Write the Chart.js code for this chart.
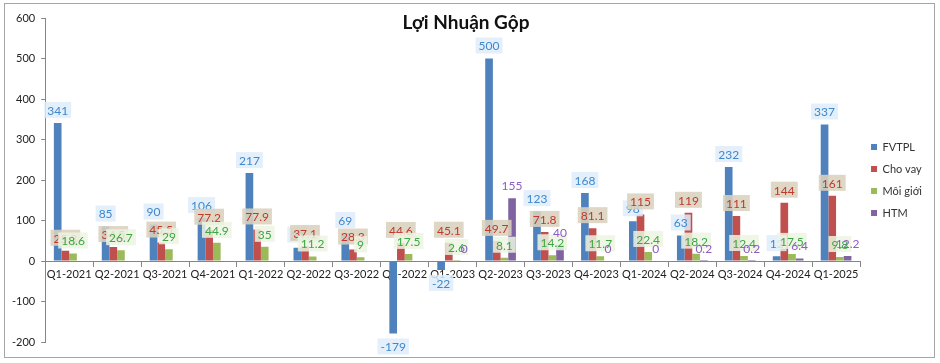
<!DOCTYPE html>
<html>
<head>
<meta charset="utf-8">
<script src="https://cdn.jsdelivr.net/npm/chart.js@4.4.1/dist/chart.umd.min.js"></script>
<style>
    html, body { margin: 0; padding: 0; background: #ffffff; }
    #wrap { position: relative; width: 940px; height: 363px; }
    #frame {
        position: absolute; left: 4px; top: 3px; width: 929px; height: 353px;
        border: 1px solid #a6a6a6; pointer-events: none;
    }
    #title {
        position: absolute; left: 0; top: 10px; width: 932px; text-align: center;
        font-family: Lato, 'Open Sans', sans-serif; font-weight: bold; font-size: 19px; color: #111;
    }
</style>
</head>
<body>
<div id="wrap">
    <canvas id="chart" width="940" height="363"></canvas>
    <div id="frame"></div>
    <div id="title">Lợi Nhuận Gộp</div>
</div>
<script>
// Quarters on the x axis
const quarters = [
    'Q1-2021', 'Q2-2021', 'Q3-2021', 'Q4-2021',
    'Q1-2022', 'Q2-2022', 'Q3-2022', 'Q4-2022',
    'Q1-2023', 'Q2-2023', 'Q3-2023', 'Q4-2023',
    'Q1-2024', 'Q2-2024', 'Q3-2024', 'Q4-2024',
    'Q1-2025'
];

// Series values (some hidden labels estimated)
const fvtpl   = [341, 85, 90, 106, 217, 33, 69, -179, -22, 500, 123, 168, 98, 63, 232, 12, 337];
const choVay  = [25.3, 34.5, 45.5, 77.2, 77.9, 37.1, 28.3, 44.6, 45.1, 49.7, 71.8, 81.1, 115, 119, 111, 144, 161];
const moiGioi = [18.6, 26.7, 29, 44.9, 35, 11.2, 9, 17.5, 2.6, 8.1, 14.2, 11.7, 22.4, 18.2, 12.4, 17.5, 9.8];
const htm     = [null, null, null, null, null, null, null, null, 0, 155, 40, 0, 0, 0.2, 0.2, 6.4, 12.2];

const yTicks = [600, 500, 400, 300, 200, 100, 0, -100, -200];

const FONT = "Lato, 'Open Sans', sans-serif";

// label colours per series: [text, box]
const labelStyles = [
    ['#3f88cc', 'rgba(222,236,250,0.85)'],
    ['#c0392b', 'rgba(219,209,190,0.88)'],
    ['#3aa845', 'rgba(236,245,226,0.85)'],
    ['#8d5cc4', null]
];

const barLabels = {
    id: 'barLabels',
    afterDatasetsDraw(chart) {
        const ctx = chart.ctx;
        ctx.save();
        ctx.font = '12px ' + FONT;
        ctx.textAlign = 'center';
        ctx.textBaseline = 'middle';
        chart.data.datasets.forEach((ds, i) => {
            const meta = chart.getDatasetMeta(i);
            const [color, box] = labelStyles[i];
            meta.data.forEach((bar, j) => {
                const v = ds.data[j];
                if (v === null || v === undefined) return;
                const txt = String(v);
                const w = ctx.measureText(txt).width + 6;
                const h = 16;
                const cy = v >= 0 ? bar.y - 13 : bar.y + 13;
                if (box) {
                    ctx.fillStyle = box;
                    ctx.fillRect(bar.x - w / 2, cy - h / 2, w, h);
                }
                ctx.fillStyle = color;
                ctx.fillText(txt, bar.x, cy + 1);
            });
        });
        ctx.restore();
    }
};

const ctx = document.getElementById('chart').getContext('2d');
new Chart(ctx, {
    type: 'bar',
    data: {
        labels: quarters,
        datasets: [
            { label: 'FVTPL', data: fvtpl, backgroundColor: '#4f81bd' },
            { label: 'Cho vay', data: choVay, backgroundColor: '#c0504d' },
            { label: 'Môi giới', data: moiGioi, backgroundColor: '#9bbb59' },
            { label: 'HTM', data: htm, backgroundColor: '#8064a2' }
        ]
    },
    options: {
        responsive: false,
        animation: false,
        layout: { padding: { top: 18, bottom: 21, left: 6, right: 8 } },
        datasets: {
            bar: { barPercentage: 1.0, categoryPercentage: 0.64 }
        },
        plugins: {
            title: { display: false },
            tooltip: { enabled: false },
            legend: {
                position: 'right',
                labels: {
                    boxWidth: 6,
                    boxHeight: 6,
                    padding: 11,
                    color: '#333',
                    font: { family: FONT, size: 11 }
                }
            }
        },
        scales: {
            x: {
                position: { y: 0 },
                grid: {
                    display: true,
                    drawOnChartArea: false,
                    drawTicks: true,
                    tickLength: 5,
                    offset: true,
                    color: '#868686'
                },
                border: { color: '#868686' },
                ticks: {
                    color: '#222',
                    padding: 2,
                    maxRotation: 0,
                    autoSkip: false,
                    font: { family: FONT, size: 11 }
                }
            },
            y: {
                min: -200,
                max: 600,
                afterBuildTicks: (axis) => {
                    axis.ticks = yTicks.map(v => ({ value: v }));
                },
                grid: {
                    display: true,
                    drawOnChartArea: false,
                    drawTicks: true,
                    tickLength: 4,
                    color: '#868686'
                },
                border: { color: '#868686' },
                ticks: {
                    color: '#222',
                    padding: 6,
                    font: { family: FONT, size: 11 }
                }
            }
        }
    },
    plugins: [barLabels]
});
</script>
</body>
</html>
